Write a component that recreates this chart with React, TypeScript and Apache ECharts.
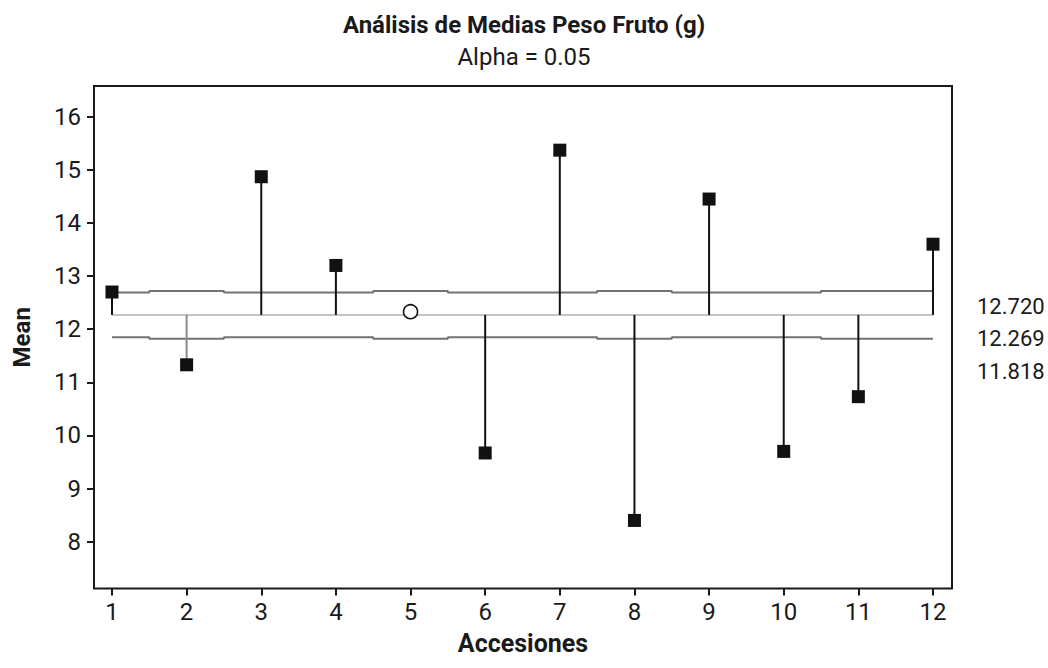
import React, { useEffect, useRef } from "react";
import * as echarts from "echarts";

const accessions = [1, 2, 3, 4, 5, 6, 7, 8, 9, 10, 11, 12];
const means = [12.7, 11.33, 14.87, 13.2, 12.33, 9.67, 15.37, 8.4, 14.45, 9.7, 10.73, 13.6];
const upperDecisionLimits = [12.689, 12.72, 12.689, 12.689, 12.72, 12.689, 12.689, 12.72, 12.689, 12.689, 12.72, 12.72];
const lowerDecisionLimits = [11.849, 11.818, 11.849, 11.849, 11.818, 11.849, 11.849, 11.818, 11.849, 11.849, 11.818, 11.818];
const centerValue = 12.269;
const yTickValues = [8, 9, 10, 11, 12, 13, 14, 15, 16];
const limitLabels = ["12.720", "12.269", "11.818"];
const grayStemAccessions = [2];

const FONT = "Roboto, 'Liberation Sans', sans-serif";

export default function App() {
  const ref = useRef<HTMLDivElement>(null);
  useEffect(() => {
    if (!ref.current) return;
    const chart = echarts.init(ref.current, undefined, { renderer: "svg" });
    const isOut = (i: number) => means[i] > upperDecisionLimits[i] || means[i] < lowerDecisionLimits[i];
    const stemData = accessions.map((a, i) => [a, means[i]]).filter((_, i) => isOut(i));
    const pointData = accessions.map((a, i) =>
      isOut(i)
        ? { value: [a, means[i]], symbol: "rect", symbolSize: 13, itemStyle: { color: "#111", opacity: 1 } }
        : { value: [a, means[i]], symbol: "circle", symbolSize: 14, itemStyle: { color: "#fff", borderColor: "#111", borderWidth: 1.6, opacity: 1 } }
    );
    chart.setOption({
      animation: false,
      backgroundColor: "#fff",
      textStyle: { fontFamily: FONT },
      title: [
        { text: "Análisis de Medias Peso Fruto (g)", left: "center", top: 8, textStyle: { fontFamily: FONT, fontSize: 24, fontWeight: "bold", color: "#1a1a1a" } },
        { text: "Alpha = 0.05", left: "center", top: 40, textStyle: { fontFamily: FONT, fontSize: 24, fontWeight: "normal", color: "#1a1a1a" } },
      ],
      grid: { left: 94, top: 86, width: 858, height: 502.5, show: true, borderColor: "#1a1a1a", borderWidth: 2, backgroundColor: "#fff" },
      xAxis: {
        type: "value",
        min: 0.759,
        max: 12.2546,
        name: "Accesiones",
        nameLocation: "middle",
        nameGap: 42,
        nameTextStyle: { fontFamily: FONT, fontSize: 25, fontWeight: "bold", color: "#1a1a1a" },
        axisLine: { show: false },
        splitLine: { show: false },
        axisTick: { show: true, length: 7, lineStyle: { color: "#1a1a1a", width: 2 }, customValues: accessions },
        axisLabel: { fontFamily: FONT, fontSize: 24, color: "#1a1a1a", margin: 11, customValues: accessions },
      },
      yAxis: {
        type: "value",
        min: 7.119,
        max: 16.578,
        name: "Mean",
        nameLocation: "middle",
        nameGap: 60,
        nameTextStyle: { fontFamily: FONT, fontSize: 24, fontWeight: "bold", color: "#1a1a1a" },
        axisLine: { show: false },
        splitLine: { show: false },
        axisTick: { show: true, length: 7, lineStyle: { color: "#1a1a1a", width: 2 }, customValues: yTickValues },
        axisLabel: { fontFamily: FONT, fontSize: 24, color: "#1a1a1a", margin: 13, customValues: yTickValues },
      },
      series: [
        {
          type: "line",
          data: [[accessions[0], centerValue], [accessions[accessions.length - 1], centerValue]],
          symbol: "none",
          lineStyle: { color: "#c4c4c4", width: 2 },
          z: 1,
        },
        {
          type: "line",
          step: "middle",
          data: accessions.map((a, i) => [a, upperDecisionLimits[i]]),
          symbol: "none",
          lineStyle: { color: "#727272", width: 2 },
          z: 2,
        },
        {
          type: "line",
          step: "middle",
          data: accessions.map((a, i) => [a, lowerDecisionLimits[i]]),
          symbol: "none",
          lineStyle: { color: "#727272", width: 2 },
          z: 2,
        },
        {
          type: "custom",
          data: stemData,
          encode: { x: 0, y: 1 },
          z: 3,
          renderItem: (params: any, api: any) => {
            const x = api.value(0);
            const v = api.value(1);
            const p1 = api.coord([x, centerValue]);
            const p2 = api.coord([x, v]);
            return {
              type: "line",
              shape: { x1: p1[0], y1: p1[1], x2: p2[0], y2: p2[1] },
              style: { stroke: grayStemAccessions.includes(x) ? "#8c8c8c" : "#111", lineWidth: 2 },
            };
          },
        },
        {
          type: "scatter",
          data: pointData,
          z: 5,
        },
      ],
      graphic: limitLabels.map((t, i) => ({
        type: "text",
        left: 977,
        top: 295 + i * 32.5,
        style: { text: t, fontFamily: FONT, fontSize: 22, fill: "#1a1a1a" },
      })),
    });
    return () => chart.dispose();
  }, []);
  return <div ref={ref} style={{ position: "absolute", left: 0, top: 0, width: 1048, height: 668 }} />;
}
